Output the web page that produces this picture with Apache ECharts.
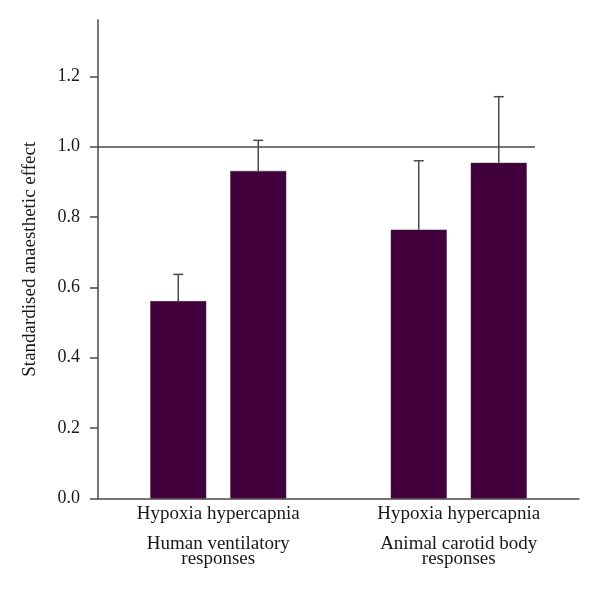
<!DOCTYPE html>
<html>
<head>
<meta charset="utf-8">
<script src="https://cdn.jsdelivr.net/npm/echarts@6/dist/echarts.min.js"></script>
<style>
  html, body { margin: 0; padding: 0; background: #fff; }
  #chart { width: 600px; height: 594px; }
</style>
</head>
<body>
<div id="chart"></div>
<script>
// 数据
const groups = ['Human ventilatory\nresponses', 'Animal carotid body\nresponses'];
const seriesNames = ['Hypoxia', 'hypercapnia'];
const hypoxiaValues = [0.561, 0.764];
const hypercapniaValues = [0.931, 0.954];
const hypoxiaErrors = [0.076, 0.196];
const hypercapniaErrors = [0.087, 0.188];
const yTicks = [0, 0.2, 0.4, 0.6, 0.8, 1.0, 1.2];
const referenceValue = 1.0;

const barColor = '#41003b';
const lineColor = '#4a4a4a';
const textColor = '#1a1718';
const fontFamily = '"Liberation Serif", "DejaVu Serif", serif';
const barWidth = 56;
const barGapPx = 24;

const chart = echarts.init(document.getElementById('chart'));

// 误差线 (只画上半部分)
function errorSeries(values, errors, sign) {
    const offset = sign * (barWidth + barGapPx) / 2;
    return {
        type: 'custom',
        z: 1,
        silent: true,
        data: values.map((v, i) => [i, v, v + errors[i]]),
        renderItem: function (params, api) {
            const base = api.coord([api.value(0), api.value(1)]);
            const top = api.coord([api.value(0), api.value(2)]);
            const x = base[0] + offset;
            const cap = 5;
            return {
                type: 'group',
                children: [
                    {type: 'line', shape: {x1: x, y1: base[1], x2: x, y2: top[1]},
                        style: {stroke: lineColor, lineWidth: 1.5}},
                    {type: 'line', shape: {x1: x - cap, y1: top[1], x2: x + cap, y2: top[1]},
                        style: {stroke: lineColor, lineWidth: 1.5}}
                ]
            };
        }
    };
}

const option = {
    animation: false,
    grid: {left: 98, right: 21, top: 20, bottom: 95.5},
    xAxis: {
        type: 'category',
        data: groups,
        axisLine: {lineStyle: {color: lineColor, width: 1.5}},
        axisTick: {show: false},
        axisLabel: {
            margin: 4,
            formatter: function (value) {
                const parts = value.split('\n');
                return '{a|' + seriesNames.join(' ') + '}\n{gap| }\n' +
                    parts.map(p => '{b|' + p + '}').join('\n');
            },
            rich: {
                a: {fontFamily: fontFamily, fontSize: 19, color: textColor, lineHeight: 24},
                gap: {fontSize: 1, lineHeight: 10},
                b: {fontFamily: fontFamily, fontSize: 19, color: textColor, lineHeight: 15}
            }
        }
    },
    yAxis: {
        type: 'value',
        min: 0,
        max: 1.36,
        interval: 0.2,
        name: 'Standardised anaesthetic effect',
        nameLocation: 'middle',
        nameGap: 58,
        nameTextStyle: {fontFamily: fontFamily, fontSize: 19, color: textColor},
        axisLine: {show: true, lineStyle: {color: lineColor, width: 1.5}},
        axisTick: {show: true, length: 8, customValues: yTicks, lineStyle: {color: lineColor, width: 1.5}},
        axisLabel: {
            customValues: yTicks,
            margin: 18,
            fontFamily: fontFamily,
            fontSize: 18,
            color: textColor,
            formatter: v => v.toFixed(1)
        },
        splitLine: {show: false}
    },
    series: [
        {
            name: seriesNames[0],
            type: 'bar',
            data: hypoxiaValues,
            barWidth: barWidth,
            barGap: (barGapPx / barWidth * 100) + '%',
            itemStyle: {color: barColor, borderColor: '#3a2a38', borderWidth: 0.5},
            markLine: {
                silent: true,
                symbol: 'none',
                label: {show: false},
                lineStyle: {color: lineColor, width: 1.5, type: 'solid'},
                data: [[
                    {coord: [0, referenceValue], x: 98},
                    {coord: [1, referenceValue], x: 535}
                ]]
            }
        },
        {
            name: seriesNames[1],
            type: 'bar',
            data: hypercapniaValues,
            barWidth: barWidth,
            itemStyle: {color: barColor, borderColor: '#3a2a38', borderWidth: 0.5}
        },
        errorSeries(hypoxiaValues, hypoxiaErrors, -1),
        errorSeries(hypercapniaValues, hypercapniaErrors, 1)
    ]
};

chart.setOption(option);
</script>
</body>
</html>
